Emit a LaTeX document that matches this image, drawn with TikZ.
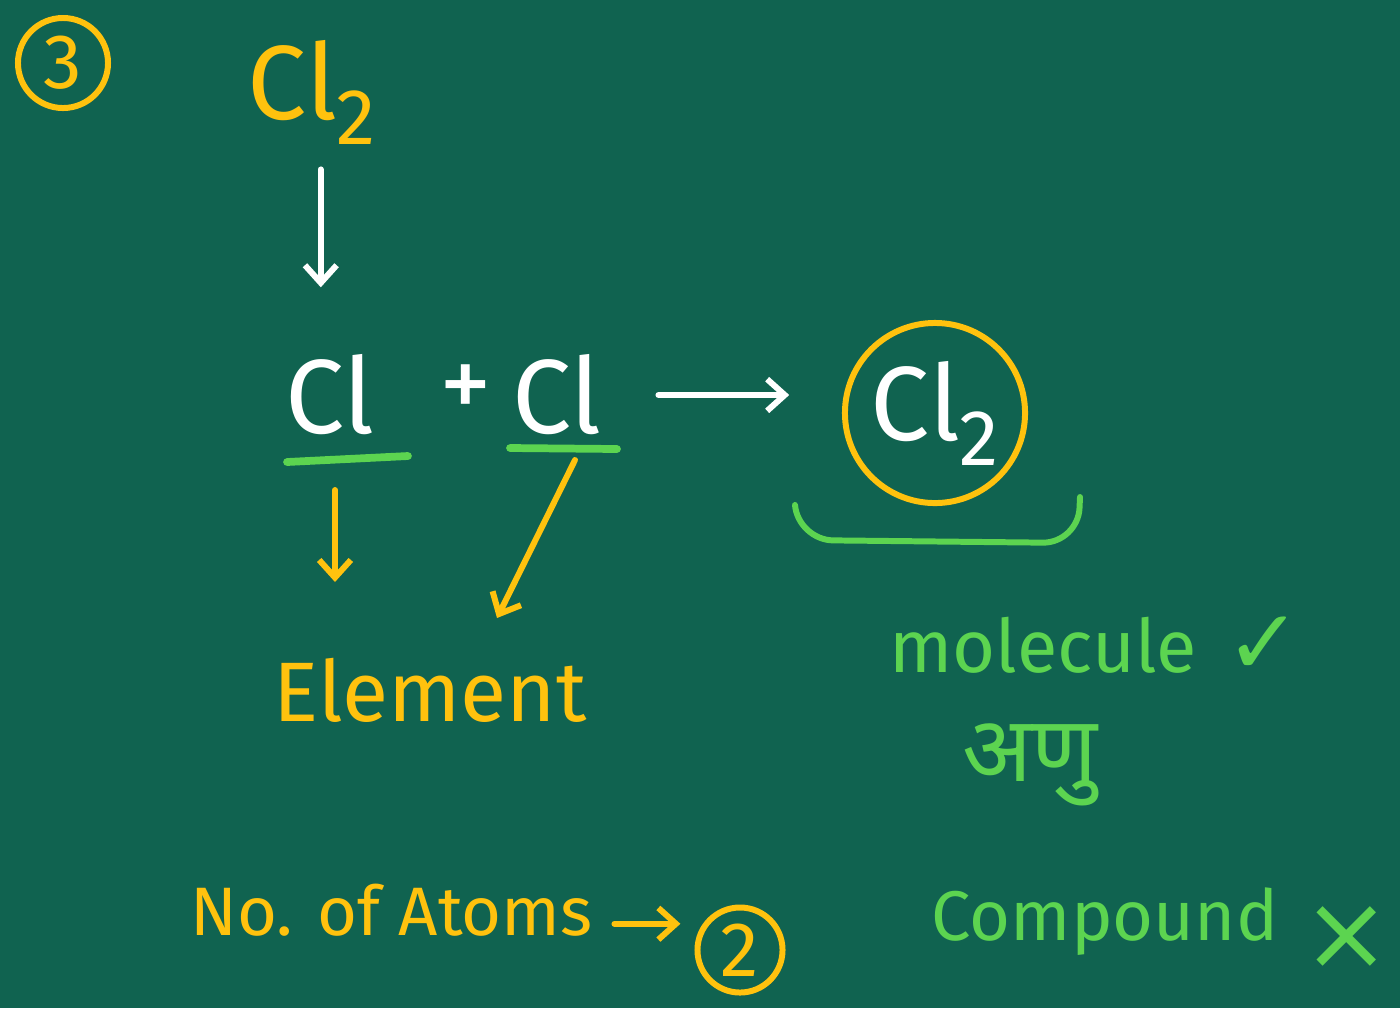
\documentclass[tikz,border=0pt]{standalone}
\usepackage{fontspec}
\setmainfont{Fira Sans}
\newfontfamily\devfont[Script=Devanagari]{Noto Sans}
\newfontfamily\symfont{DejaVu Sans}
\usetikzlibrary{arrows.meta}
\definecolor{board}{RGB}{16,99,80}
\definecolor{chalkyellow}{RGB}{255,194,14}
\definecolor{chalkgreen}{RGB}{92,212,80}
\newcommand\lowsub[1]{\raisebox{-0.45ex}{\scalebox{0.75}{#1}}}
\begin{document}
\begin{tikzpicture}[x=0.01cm,y=-0.01cm,
  every node/.style={inner sep=0pt},
  yel/.style={text=chalkyellow},
  grn/.style={text=chalkgreen},
  wht/.style={text=white},
  big/.style={font=\fontsize{30}{34}\selectfont},
  mid/.style={font=\fontsize{24}{28}\selectfont},
  ring/.style={circle,draw,line width=1.7pt},
  pen/.style={line width=1.7pt,line cap=round,line join=round},
  tip/.style={-{Straight Barb[length=5pt,width=9pt]}}
]
\fill[board] (0,0) rectangle (1400,1008);
\useasboundingbox (0,0) rectangle (1400,1008);

% step number
\node[ring,draw=chalkyellow,yel,minimum size=0.9cm,font=\fontsize{22}{24}\selectfont] (num) at (63,63) {3};

% top Cl2
\node[yel,big] (cltop) at (312,92) {Cl\lowsub{2}};

% reaction
\node[wht,big] (clA) at (330,395) {Cl};
\node[wht,big] (plus) at (466,392) {+};
\node[wht,big] (clB) at (557,395) {Cl};
\node[ring,draw=chalkyellow,wht,big,minimum size=1.8cm] (prod) at (935,413) {Cl\lowsub{2}};

\draw[pen,white,tip,shorten <=7pt,shorten >=19pt] ([xshift=2.5pt]cltop.south) -- ([xshift=2.5pt]cltop.south |- clA.north);
\draw[pen,white,tip,shorten <=16pt,shorten >=15pt] (clB.east) -- (clB.east -| prod.west);

% underlines
\coordinate (uA1) at (287,462);
\coordinate (uA2) at (408,456);
\coordinate (uB1) at (510,448);
\coordinate (uB2) at (617,449);
\draw[pen,chalkgreen,line width=2.2pt] (uA1) -- (uA2);
\draw[pen,chalkgreen,line width=2.2pt] (uB1) -- (uB2);

% Element
\node[yel,mid] (elem) at (430,690) {Element};
\coordinate (dA) at (335,490);
\coordinate (dB) at (575,460);
\coordinate (eA) at (335,582);
\coordinate (eB) at (497,618);
\draw[pen,chalkyellow,tip] (dA) -- (eA);
\draw[pen,chalkyellow,tip] (dB) -- (eB);

% molecule bracket
\draw[pen,chalkgreen,rounded corners=10pt] (795,505) -- (798,540) -- (1078,543) -- (1080,497);

\node[grn,font=\fontsize{21}{24}\selectfont] (mol) at (1043,645) {molecule};
\node[text=chalkgreen,font=\symfont\fontsize{26}{28}\selectfont] (tick) at (1264,646) {✓};
\node[grn,font=\devfont\fontsize{26}{30}\selectfont] (anu) at (1030,765) {अणु};

% No. of atoms
\node[yel,font=\fontsize{19.5}{24}\selectfont,anchor=base west] (atoms) at (190,935) {No. of Atoms};
\node[ring,draw=chalkyellow,yel,minimum size=0.85cm,font=\fontsize{22}{24}\selectfont] (two) at (740,950) {2};
\draw[pen,chalkyellow,tip,shorten <=6pt,shorten >=4pt] ([yshift=-4pt]atoms.east) -- ([yshift=-4pt]atoms.east -| two.west);

% compound
\node[grn,font=\fontsize{20}{24}\selectfont] (comp) at (1105,922) {Compound};
\node[text=chalkgreen,font=\symfont\fontsize{30}{32}\selectfont] (cross) at (1347,938) {×};
\end{tikzpicture}
\end{document}
